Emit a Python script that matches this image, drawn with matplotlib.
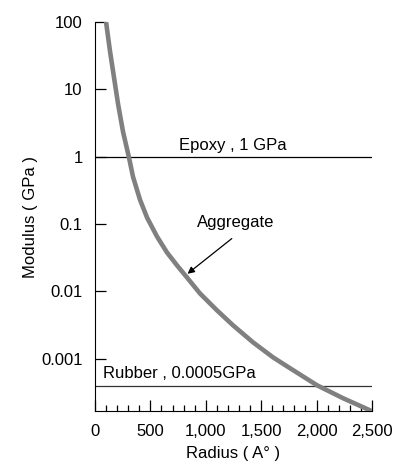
import matplotlib.pyplot as plt
from matplotlib.ticker import FixedLocator, MultipleLocator, NullLocator

plt.rcParams['font.family'] = ['Liberation Sans', 'DejaVu Sans']

# curve: radius (A) vs modulus (GPa)
radius = [100, 135, 172, 208, 253, 307, 343, 406, 470, 560, 650, 741, 831,
          948, 1102, 1247, 1427, 1608, 1734, 2005, 2240, 2500]
modulus = [100, 37.4, 14.9, 6.1, 2.35, 0.97, 0.505, 0.23, 0.1245, 0.065,
           0.0377, 0.0242, 0.016, 0.00927, 0.00519, 0.00311, 0.00174,
           0.00104, 0.000766, 0.0004, 0.000257, 0.000165]

epoxy = 1.0
rubber = 0.00039
y_ticks = [100, 10, 1, 0.1, 0.01, 0.001]
y_labels = ['100', '10', '1', '0.1', '0.01', '0.001']
x_ticks = [0, 500, 1000, 1500, 2000, 2500]
x_labels = ['0', '500', '1,000', '1,500', '2,000', '2,500']

fig = plt.figure(figsize=(4.06, 4.62), dpi=100)
ax = fig.add_axes([0.234, 0.110, 0.682, 0.842])

ax.plot(radius, modulus, color='#808080', lw=3.3, solid_capstyle='round',
        solid_joinstyle='round', zorder=3)
ax.axhline(epoxy, color='black', lw=0.9)
ax.axhline(rubber, color='#333333', lw=0.9)

ax.set_yscale('log')
ax.set_xlim(0, 2500)
ax.set_ylim(0.000165, 100)

ax.yaxis.set_major_locator(FixedLocator(y_ticks))
ax.set_yticklabels(y_labels)
ax.yaxis.set_minor_locator(NullLocator())
ax.set_xticks(x_ticks)
ax.set_xticklabels(x_labels)
ax.xaxis.set_minor_locator(MultipleLocator(100))

ax.tick_params(which='major', direction='in', length=8, width=0.9, labelsize=12)
ax.tick_params(which='minor', direction='in', length=4, width=0.9)
ax.tick_params(axis='y', pad=9)
ax.tick_params(axis='x', pad=9)

for s in ['top', 'right']:
    ax.spines[s].set_visible(False)

ax.text(760, 1.12, 'Epoxy , 1 GPa', fontsize=12, va='bottom')
ax.text(70, 0.00047, 'Rubber , 0.0005GPa', fontsize=12, va='bottom')
ax.text(920, 0.105, 'Aggregate', fontsize=12, va='center')
ax.annotate('', xy=(835, 0.0182), xytext=(1235, 0.0607),
            arrowprops=dict(arrowstyle='-|>', color='black', lw=0.9,
                            shrinkA=0, shrinkB=0, mutation_scale=10))

ax.set_xlabel('Radius ( A° )', fontsize=12, labelpad=5)
ax.set_ylabel('Modulus ( GPa )', fontsize=12, labelpad=2)

fig.savefig('out.png', dpi=100)
